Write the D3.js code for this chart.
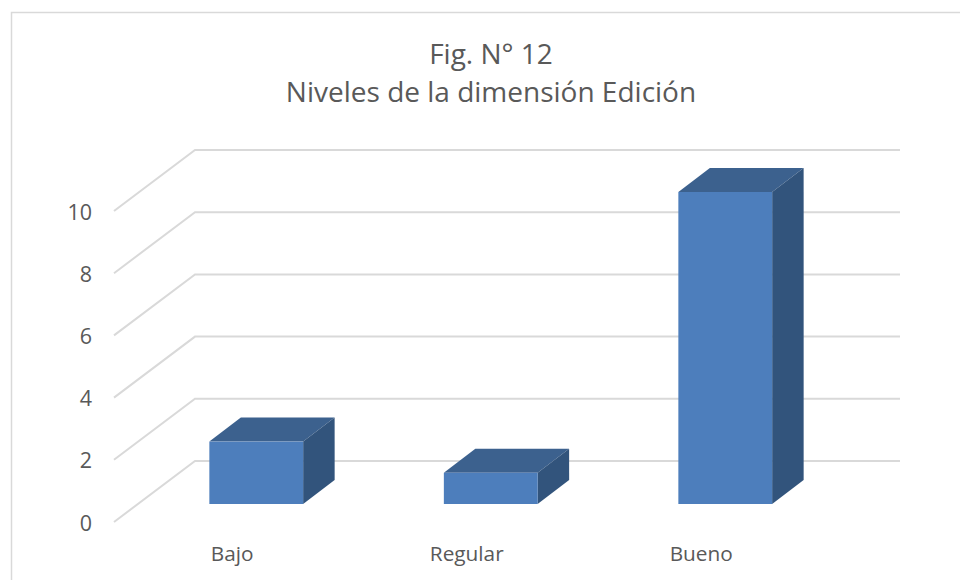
<!DOCTYPE html>
<html lang="es">
<head>
  <meta charset="UTF-8">
  <title>Niveles de la dimensión Edición</title>
  <script src="https://d3js.org/d3.v7.min.js"></script>
  <style>
    html, body { margin: 0; padding: 0; background: #fff; }
    svg { display: block; }
    text { font-family: "Open Sans", sans-serif; fill: #595959; }
    .grid { fill: none; stroke: #d9d9d9; stroke-width: 2; }
    .frame { fill: none; stroke: #d9d9d9; stroke-width: 1.5; }
  </style>
</head>
<body>
  <svg width="960" height="580"></svg>

  <script>
    const categories = ["Bajo", "Regular", "Bueno"];
    const values = [2, 1, 10];
    const yTicks = [0, 2, 4, 6, 8, 10];
    const titleLines = ["Fig. N° 12", "Niveles de la dimensión Edición"];

    const svg = d3.select("svg");

    // 3d offsets
    const wallDx = 81, wallDy = -61;
    const barDx = 31.5, barDy = -24;

    // front plane of the floor
    const x = d3.scaleBand().domain(categories).range([139, 842.5])
      .paddingInner(0.6).paddingOuter(0.3);
    const yWall = d3.scaleLinear().domain([0, 10]).range([522, 211]);
    const yBar = d3.scaleLinear().domain([0, 10]).range([504, 192]);

    svg.append("path").attr("class", "frame").attr("d", "M11.5,580V12.5H960");

    // grid lines: diagonal on the side wall, then flat on the back wall
    svg.selectAll(".grid").data(yTicks).join("path")
      .attr("class", "grid")
      .attr("d", d => {
        const y0 = yWall(d);
        return `M114,${y0}L${114 + wallDx},${y0 + wallDy}H900`;
      });

    const bars = svg.selectAll(".bar").data(values).join("g").attr("class", "bar");
    const left = (d, i) => x(categories[i]);
    const right = (d, i) => x(categories[i]) + x.bandwidth();

    // top
    bars.append("path").attr("fill", "#3c618e")
      .attr("d", (d, i) => `M${left(d, i)},${yBar(d)}l${barDx},${barDy}H${right(d, i) + barDx}L${right(d, i)},${yBar(d)}Z`);
    // side
    bars.append("path").attr("fill", "#32547c")
      .attr("d", (d, i) => `M${right(d, i)},${yBar(d)}l${barDx},${barDy}V${yBar(0) + barDy}L${right(d, i)},${yBar(0)}Z`);
    // front
    bars.append("rect").attr("fill", "#4d7ebc")
      .attr("x", (d, i) => left(d, i))
      .attr("y", d => yBar(d))
      .attr("width", x.bandwidth())
      .attr("height", d => yBar(0) - yBar(d));

    // y labels
    svg.selectAll(".ytick").data(yTicks).join("text")
      .attr("class", "ytick")
      .attr("x", 92)
      .attr("y", d => yWall(d) + 8.5)
      .attr("text-anchor", "end")
      .attr("font-size", 21.5)
      .text(d => d);

    // category labels sit left of the bars, on the front of the floor
    svg.selectAll(".xtick").data(categories).join("text")
      .attr("class", "xtick")
      .attr("x", d => x(d) + x.bandwidth() / 2 - 24)
      .attr("y", 560.5)
      .attr("text-anchor", "middle")
      .attr("font-size", 20.8)
      .text(d => d);

    svg.selectAll(".title").data(titleLines).join("text")
      .attr("class", "title")
      .attr("x", 491)
      .attr("y", (d, i) => 64 + i * 38)
      .attr("text-anchor", "middle")
      .attr("font-size", 28)
      .text(d => d);
  </script>
</body>
</html>
